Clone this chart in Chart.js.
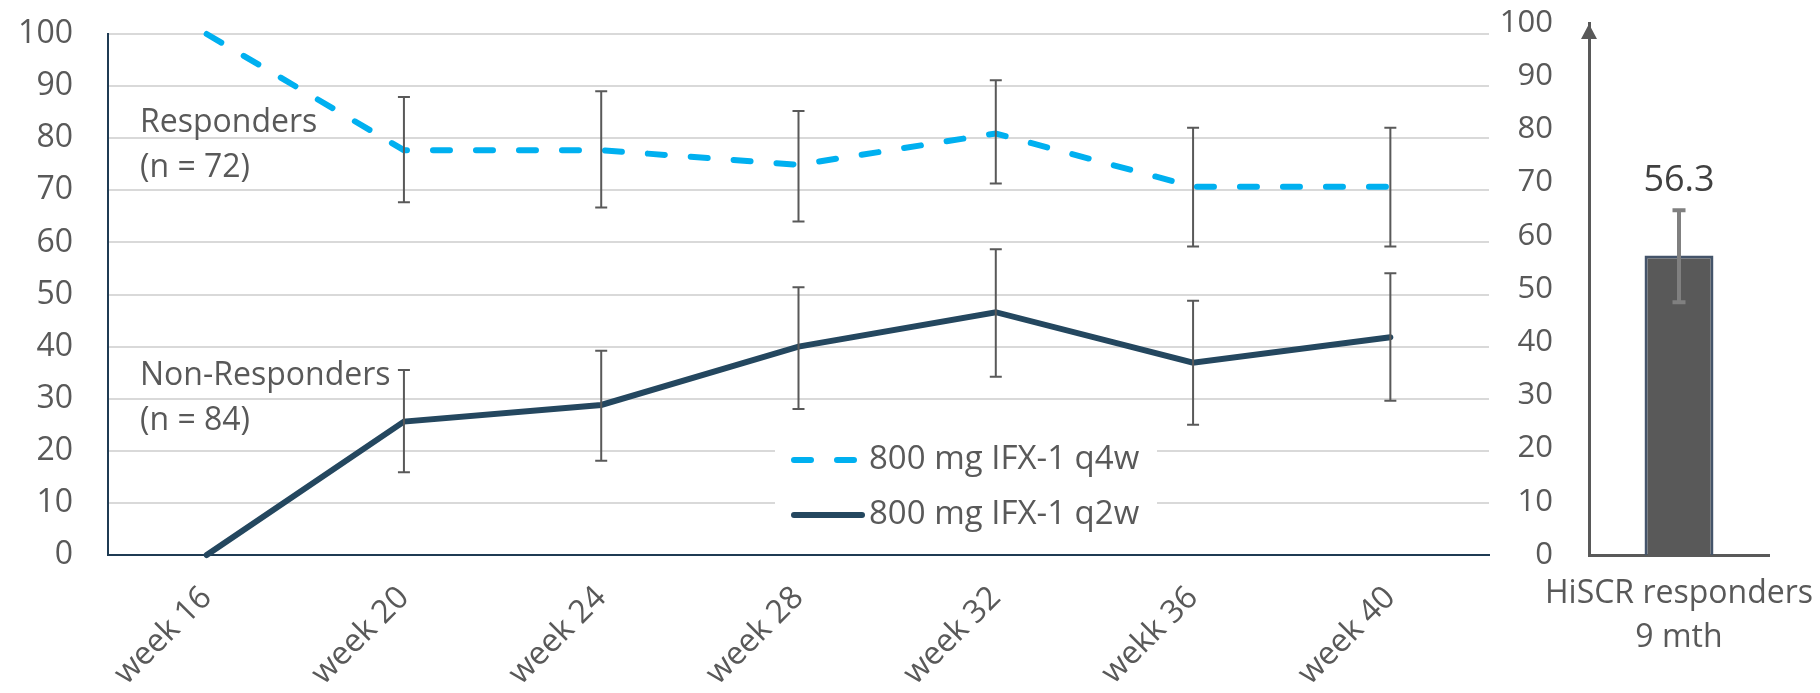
<!DOCTYPE html>
<html>
<head>
<meta charset="utf-8">
<script src="https://cdn.jsdelivr.net/npm/chart.js@4.4.1/dist/chart.umd.min.js"></script>
<style>
  html, body { margin: 0; padding: 0; background: #fff; }
  #wrap { position: relative; width: 1820px; height: 693px; }
  #weeks-chart { position: absolute; left: 0; top: 0; }
  #hiscr-chart { position: absolute; left: 1490px; top: 0; }
</style>
</head>
<body>
<div id="wrap">
  <canvas id="weeks-chart" width="1490" height="693"></canvas>
  <canvas id="hiscr-chart" width="330" height="693"></canvas>
</div>
<script>
// values (percent)
const weeks = ['week 16', 'week 20', 'week 24', 'week 28', 'week 32', 'wekk 36', 'week 40'];

const q4w = [100, 77.7, 77.7, 74.9, 80.9, 70.7, 70.7];
const q4wHigh = [null, 87.9, 89.0, 85.2, 91.1, 82.0, 82.0];
const q4wLow = [null, 67.7, 66.7, 64.0, 71.3, 59.2, 59.2];

const q2w = [0, 25.6, 28.8, 40.0, 46.6, 36.9, 41.8];
const q2wHigh = [null, 35.5, 39.2, 51.4, 58.7, 48.8, 54.1];
const q2wLow = [null, 15.9, 18.1, 28.0, 34.2, 25.0, 29.6];

const seriesNames = ['800 mg IFX-1 q4w', '800 mg IFX-1 q2w'];
const groupNotes = [
  { lines: ['Responders', '(n = 72)'], y: 123 },
  { lines: ['Non-Responders', '(n = 84)'], y: 376 },
];

const barLabels = [['HiSCR responders', '9 mth']];
const barValues = [56.3];
const barHigh = [64.8];
const barLow = [47.5];

const yTicks = [0, 10, 20, 30, 40, 50, 60, 70, 80, 90, 100];

const TEXT = '#595959';
const NAVY = '#1f3b53';
const CYAN = '#00b0f0';
const DARK = '#24475f';
const FONT = '"Open Sans"';

function errorBars(ctx, xScale, yScale, highs, lows, color, width, cap) {
  ctx.save();
  ctx.strokeStyle = color;
  ctx.lineWidth = width;
  highs.forEach((hi, i) => {
    if (hi === null || lows[i] === null) return;
    const x = xScale.getPixelForValue(i);
    const yh = yScale.getPixelForValue(hi);
    const yl = yScale.getPixelForValue(lows[i]);
    ctx.beginPath();
    ctx.moveTo(x, yh); ctx.lineTo(x, yl);
    ctx.moveTo(x - cap, yh); ctx.lineTo(x + cap, yh);
    ctx.moveTo(x - cap, yl); ctx.lineTo(x + cap, yl);
    ctx.stroke();
  });
  ctx.restore();
}

const weeksExtras = {
  id: 'weeksExtras',
  afterDatasetsDraw(chart) {
    const { ctx, scales: { x, y } } = chart;
    errorBars(ctx, x, y, q4wHigh, q4wLow, '#595959', 2, 6);
    errorBars(ctx, x, y, q2wHigh, q2wLow, '#595959', 2, 6);

    ctx.save();
    ctx.font = '32px ' + FONT;
    ctx.fillStyle = TEXT;
    ctx.textAlign = 'left';
    ctx.textBaseline = 'middle';
    groupNotes.forEach((g) => {
      g.lines.forEach((t, i) => ctx.fillText(t, 140, g.y + i * 45));
    });

    // legend box inside the plot
    ctx.fillStyle = '#fff';
    ctx.fillRect(775, 425, 382, 120);
    const rows = [
      { y: 460, color: CYAN, dash: [17, 26], end: 858 },
      { y: 515, color: DARK, dash: [], end: 862 },
    ];
    rows.forEach((r, i) => {
      ctx.strokeStyle = r.color;
      ctx.lineWidth = 6;
      ctx.lineCap = 'round';
      ctx.setLineDash(r.dash);
      ctx.beginPath();
      ctx.moveTo(794, r.y);
      ctx.lineTo(r.end, r.y);
      ctx.stroke();
      ctx.setLineDash([]);
      ctx.fillStyle = TEXT;
      ctx.font = '33px ' + FONT;
      ctx.fillText(seriesNames[i], 869, r.y);
    });
    ctx.restore();
  },
};

const hiscrExtras = {
  id: 'hiscrExtras',
  afterDatasetsDraw(chart) {
    const { ctx, scales: { x, y } } = chart;
    errorBars(ctx, x, y, barHigh, barLow, '#808080', 4, 6.5);

    ctx.save();
    ctx.font = '36px ' + FONT;
    ctx.fillStyle = '#404040';
    ctx.textAlign = 'center';
    ctx.textBaseline = 'middle';
    barValues.forEach((v, i) => {
      ctx.fillText(String(v), x.getPixelForValue(i), y.getPixelForValue(barHigh[i]) - 30);
    });
    ctx.restore();
  },
  afterDraw(chart) {
    const { ctx, chartArea } = chart;
    ctx.save();
    ctx.fillStyle = '#595959';
    ctx.beginPath();
    ctx.moveTo(chartArea.left, chartArea.top + 1);
    ctx.lineTo(chartArea.left - 8, chartArea.top + 16);
    ctx.lineTo(chartArea.left + 8, chartArea.top + 16);
    ctx.closePath();
    ctx.fill();
    ctx.restore();
  },
};

function build() {
  new Chart(document.getElementById('weeks-chart'), {
    type: 'line',
    data: {
      labels: weeks,
      datasets: [
        {
          label: seriesNames[0],
          data: q4w,
          borderColor: CYAN,
          borderWidth: 6,
          borderDash: [17, 26],
          borderCapStyle: 'round',
          pointRadius: 0,
          tension: 0,
          clip: false,
        },
        {
          label: seriesNames[1],
          data: q2w,
          borderColor: DARK,
          borderWidth: 6,
          borderCapStyle: 'round',
          pointRadius: 0,
          tension: 0,
          clip: false,
        },
      ],
    },
    options: {
      responsive: false,
      animation: false,
      layout: { padding: { top: 34, right: 1, left: 0, bottom: 0 } },
      plugins: { legend: { display: false }, tooltip: { enabled: false } },
      scales: {
        x: {
          offset: true,
          grid: { display: false, drawTicks: false },
          border: { display: true, color: NAVY, width: 2 },
          ticks: {
            color: TEXT,
            font: { family: 'Open Sans', size: 32 },
            minRotation: 45,
            maxRotation: 45,
            autoSkip: false,
            padding: 24,
          },
          afterFit: (s) => { s.height = 138; s.paddingLeft = 0; s.paddingRight = 0; },
        },
        y: {
          min: 0,
          max: 100,
          afterBuildTicks: (s) => { s.ticks = yTicks.map((v) => ({ value: v })); },
          grid: { color: '#d9d9d9', lineWidth: 2, drawTicks: false },
          border: { display: true, color: NAVY, width: 2 },
          ticks: { color: TEXT, font: { family: 'Open Sans', size: 32 }, padding: 35 },
          afterFit: (s) => { s.width = 108; s.paddingTop = 0; s.paddingBottom = 0; },
        },
      },
    },
    plugins: [weeksExtras],
  });

  new Chart(document.getElementById('hiscr-chart'), {
    type: 'bar',
    data: {
      labels: barLabels,
      datasets: [{
        data: barValues,
        backgroundColor: '#595959',
        borderColor: '#44546a',
        borderWidth: 3,
        barPercentage: 0.383,
        categoryPercentage: 1,
      }],
    },
    options: {
      responsive: false,
      animation: false,
      layout: { padding: { top: 23, right: 51, left: 0, bottom: 0 } },
      plugins: { legend: { display: false }, tooltip: { enabled: false } },
      scales: {
        x: {
          grid: { display: false, drawTicks: false },
          border: { display: true, color: '#595959', width: 3 },
          ticks: {
            color: TEXT,
            font: { family: 'Open Sans', size: 32, lineHeight: 1.37 },
            minRotation: 0,
            maxRotation: 0,
            padding: 17,
          },
          afterFit: (s) => { s.height = 138; s.paddingLeft = 0; s.paddingRight = 0; },
        },
        y: {
          min: 0,
          max: 100,
          afterBuildTicks: (s) => { s.ticks = yTicks.map((v) => ({ value: v })); },
          grid: { display: false, drawTicks: false },
          border: { display: true, color: '#595959', width: 3 },
          ticks: { color: TEXT, font: { family: 'Open Sans', size: 31 }, padding: 36 },
          afterFit: (s) => { s.width = 99; s.paddingTop = 0; s.paddingBottom = 0; },
        },
      },
    },
    plugins: [hiscrExtras],
  });
}

Promise.all([
  document.fonts.load('32px "Open Sans"'),
]).then(build, build);
</script>
</body>
</html>
